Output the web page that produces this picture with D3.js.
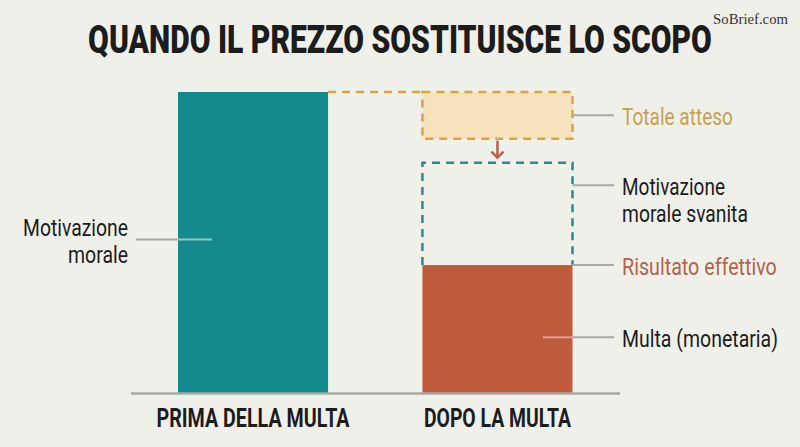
<!DOCTYPE html>
<html><head><meta charset="utf-8">
<script src="https://cdn.jsdelivr.net/npm/d3@7"></script>
<style>
html,body{margin:0;padding:0;background:#f0f0eb;}
svg{display:block;}
text{font-family:Roboto,"Liberation Sans",sans-serif;}
</style></head>
<body>
<script>
// ---- data ----
const categories = ["PRIMA DELLA MULTA", "DOPO LA MULTA"];
const moralBefore = 100;           // motivazione morale (prima)
const fineAfter = 42.5;            // multa monetaria (dopo) = risultato effettivo
const vanishedTop = 76.5;          // livello motivazione morale svanita
const expectedRange = [84.5, 100]; // totale atteso
const title = "QUANDO IL PREZZO SOSTITUISCE LO SCOPO";
const source = "SoBrief.com";

const W = 800, H = 447;
const svg = d3.select("body").append("svg").attr("width", W).attr("height", H);
svg.append("rect").attr("width", W).attr("height", H).attr("fill", "#f0f0eb");

const x = d3.scaleBand().domain(categories).range([178, 572.5]).paddingInner(0.386).paddingOuter(0);
const y = d3.scaleLinear().domain([0, 100]).range([393, 92]);
const bw = x.bandwidth();
const xA = x(categories[0]), xB = x(categories[1]);

// condensed text: draw at natural width, then scale horizontally to target width
function ctext(txt, xx, yy, size, weight, color, anchor, width) {
  const t = svg.append("text").attr("x", 0).attr("y", 0).attr("text-anchor", anchor)
    .attr("font-size", size).attr("font-weight", weight).attr("fill", color).text(txt);
  const w = t.node().getComputedTextLength();
  const k = width / w;
  t.attr("transform", `translate(${xx},${yy}) scale(${k},1)`);
  return t;
}

// title
ctext(title, 400, 53, 38, 900, "#1c1c1c", "middle", 624);
const src = svg.append("text").attr("x", 0).attr("y", 0).attr("text-anchor", "end")
  .attr("font-size", 15).attr("fill", "#333")
  .style("font-family", "'Liberation Serif','DejaVu Serif',serif")
  .text(source);
{
  const w = src.node().getComputedTextLength();
  src.attr("transform", `translate(788,24) scale(${75 / w},1)`);
}

// teal bar
svg.append("rect").attr("x", xA).attr("y", y(moralBefore)).attr("width", bw)
  .attr("height", y(0) - y(moralBefore)).attr("fill", "#138a8b");

// red bar
svg.append("rect").attr("x", xB).attr("y", y(fineAfter)).attr("width", bw)
  .attr("height", y(0) - y(fineAfter)).attr("fill", "#bf5b3d");

// expected total box
svg.append("rect").attr("x", xB).attr("y", y(expectedRange[1])).attr("width", bw)
  .attr("height", y(expectedRange[0]) - y(expectedRange[1]))
  .attr("fill", "#f8e2bd").attr("stroke", "#d9a343").attr("stroke-width", 2.5)
  .attr("stroke-dasharray", "8,6");
// dashed connector
svg.append("line").attr("x1", xA + bw).attr("x2", xB).attr("y1", y(moralBefore)).attr("y2", y(moralBefore))
  .attr("stroke", "#d9a343").attr("stroke-width", 2.5).attr("stroke-dasharray", "8,6");

// vanished moral dashed outline (top + sides)
svg.append("path")
  .attr("d", `M${xB},${y(fineAfter)} L${xB},${y(vanishedTop)} L${xB + bw},${y(vanishedTop)} L${xB + bw},${y(fineAfter)}`)
  .attr("fill", "none").attr("stroke", "#2b8a87").attr("stroke-width", 2.5).attr("stroke-dasharray", "8,6");

// arrow
const ax = xB + bw / 2;
const a0 = y(expectedRange[0]) + 2, a1 = y(vanishedTop) - 5;
svg.append("line").attr("x1", ax).attr("x2", ax).attr("y1", a0).attr("y2", a1)
  .attr("stroke", "#b5604a").attr("stroke-width", 2.5);
svg.append("path").attr("d", `M${ax - 6},${a1 - 6} L${ax},${a1} L${ax + 6},${a1 - 6}`)
  .attr("fill", "none").attr("stroke", "#b5604a").attr("stroke-width", 2.5);

// baseline
svg.append("line").attr("x1", 131).attr("x2", 620).attr("y1", y(0) + 0.5).attr("y2", y(0) + 0.5)
  .attr("stroke", "#a9a9a5").attr("stroke-width", 2.5);

// category labels
const catW = [193, 147];
categories.forEach((c, i) => ctext(c, x(c) + bw / 2, 427, 26, 700, "#1c1c1c", "middle", catW[i]));

// leader lines
const lead = (x1, x2, yy, c) => svg.append("line").attr("x1", x1).attr("x2", x2).attr("y1", yy).attr("y2", yy)
  .attr("stroke", c).attr("stroke-width", 2);
const gray = "#a9a9a5";
// left
const yMoral = y(51);
lead(136, xA, yMoral, gray);
lead(xA, 212, yMoral, "#8ccac6");
// right
const rx1 = xB + bw, rx2 = 614, tx = 622;
lead(rx1, rx2, y((expectedRange[0] + expectedRange[1]) / 2), gray);
lead(rx1, rx2, y((vanishedTop + fineAfter) / 2 + 9.5), gray);
lead(rx1, rx2, y(fineAfter), gray);
const yFine = y(18.5);
lead(543, rx1, yFine, "#dba48f");
lead(rx1, rx2, yFine, gray);

const fs = 24;
ctext("Motivazione", 128, 236, fs, 400, "#1c1c1c", "end", 105);
ctext("morale", 128, 263, fs, 400, "#1c1c1c", "end", 60);
ctext("Totale atteso", tx, 125, fs, 400, "#c9a04f", "start", 111);
ctext("Motivazione", tx, 195, fs, 400, "#1c1c1c", "start", 103);
ctext("morale svanita", tx, 222, fs, 400, "#1c1c1c", "start", 126);
ctext("Risultato effettivo", tx, 275, fs, 400, "#b5624a", "start", 155);
ctext("Multa (monetaria)", tx, 347, fs, 400, "#1c1c1c", "start", 156);
</script>
</body></html>
